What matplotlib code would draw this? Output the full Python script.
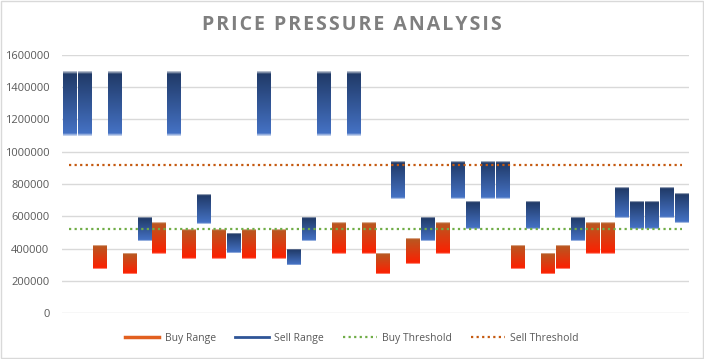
import numpy as np
import matplotlib
matplotlib.use("Agg")
import matplotlib.pyplot as plt
from matplotlib.lines import Line2D
from matplotlib.colors import to_rgb

plt.rcParams['font.family'] = ['Open Sans', 'DejaVu Sans']

# 每个类别：类型（B=买入区间, S=卖出区间）、区间下沿、区间上沿
kinds = ["S", "S", "B", "S", "B", "S", "B", "S", "B", "S", "B", "S", "B", "S",
         "B", "S", "S", "S", "B", "S", "B", "B", "S", "B", "S", "B", "S", "S",
         "S", "S", "B", "S", "B", "B", "S", "B", "B", "S", "S", "S", "S", "S"]
lows = [1100000, 1100000, 275000, 1100000, 245000, 445000, 365000, 1100000,
        335000, 555000, 335000, 372000, 335000, 1100000, 335000, 297000,
        445000, 1100000, 365000, 1100000, 365000, 245000, 705000, 305000,
        445000, 365000, 705000, 520000, 705000, 705000, 275000, 520000,
        245000, 275000, 445000, 365000, 365000, 592000, 520000, 520000,
        592000, 557000]
highs = [1500000, 1500000, 420000, 1500000, 375000, 590000, 560000, 1500000,
         515000, 740000, 515000, 495000, 515000, 1500000, 515000, 396000,
         590000, 1500000, 560000, 1500000, 560000, 375000, 935000, 464000,
         590000, 560000, 935000, 689000, 935000, 935000, 420000, 689000,
         375000, 420000, 590000, 560000, 560000, 784000, 689000, 689000,
         784000, 737000]
buy_threshold = 518000
sell_threshold = 915000

x = np.arange(len(kinds))
lows = np.array(lows)
highs = np.array(highs)

fig = plt.figure(figsize=(7.04, 3.59), dpi=100)
ax = fig.add_axes([0.088, 0.128, 0.891, 0.719])

# 渐变色：上 -> 下
grad = {
    "B": (to_rgb("#B65A22"), to_rgb("#FF1E00")),
    "S": (to_rgb("#1F3864"), to_rgb("#4674C8")),
}


def gradient_image(top, bottom, n=120, fade=0.05):
    t = np.linspace(0, 1, n)[:, None]
    rgb = np.array(top)[None, :] * (1 - t) + np.array(bottom)[None, :] * t
    alpha = np.ones((n, 1))
    k = max(1, int(n * fade))
    ramp = np.linspace(0.25, 1, k)[:, None]
    alpha[:k] = ramp
    alpha[-k:] = ramp[::-1]
    return np.concatenate([rgb, alpha], axis=1)[:, None, :]


bars = ax.bar(x, highs - lows, bottom=lows, width=0.88, color="none",
              edgecolor="none", zorder=3)
for k, b in zip(kinds, bars):
    x0, y0 = b.get_x(), b.get_y()
    w, h = b.get_width(), b.get_height()
    img = gradient_image(*grad[k])
    ax.imshow(img, extent=(x0, x0 + w, y0, y0 + h), aspect="auto",
              origin="upper", zorder=3, interpolation="bilinear")

ax.plot(x, [buy_threshold] * len(x), color="#70AD47", lw=1.6,
        linestyle=(0, (1, 1.5)), zorder=4)
ax.plot(x, [sell_threshold] * len(x), color="#C55A11", lw=1.6,
        linestyle=(0, (1, 1.5)), zorder=4)

ax.set_xlim(-0.5, len(x) - 0.5)
ax.set_ylim(0, 1600000)
ax.set_yticks(np.arange(0, 1600001, 200000))
ax.set_yticklabels([str(v) for v in range(0, 1600001, 200000)])
ax.set_xticks([])
ax.yaxis.grid(True, color="#D9D9D9", lw=1)
ax.set_axisbelow(True)
for s in ax.spines.values():
    s.set_visible(False)
ax.tick_params(axis="y", length=0, labelsize=8, colors="#595959", pad=9)

title = "PRICE PRESSURE ANALYSIS"
fig.text(0.5, 0.93, "\u200a".join(title), ha="center", va="center",
         fontsize=14, fontweight="bold", color="#7F7F7F")

handles = [
    Line2D([], [], color="#E2601F", lw=2.5),
    Line2D([], [], color="#2F5597", lw=2),
    Line2D([], [], color="#70AD47", lw=1.6, linestyle=(0, (1, 1.5))),
    Line2D([], [], color="#C55A11", lw=1.6, linestyle=(0, (1, 1.5))),
]
labels = ["Buy Range", "Sell Range", "Buy Threshold", "Sell Threshold"]
fig.legend(handles, labels, loc="center", bbox_to_anchor=(0.5, 0.058),
           ncol=4, frameon=False, fontsize=7.5, handlelength=3.3,
           handletextpad=0.5, columnspacing=1.8, labelcolor="#595959")

# 外边框
fig.patches.append(plt.Rectangle((0.001, 0.002), 0.997, 0.996,
                                 transform=fig.transFigure, fill=False,
                                 edgecolor="#D9D9D9", lw=1))

fig.savefig("out.png", dpi=100)
